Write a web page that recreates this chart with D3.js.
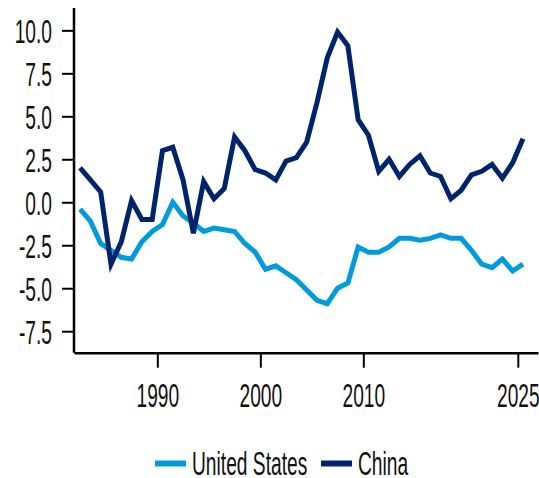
<!DOCTYPE html>
<html>
<head>
<meta charset="utf-8">
<script src="https://cdn.jsdelivr.net/npm/d3@7"></script>
<style>
  body { margin: 0; background: #fff; }
  text { font-family: "Liberation Sans", Arial, sans-serif; fill: #111; }
</style>
</head>
<body>
<svg id="chart" width="539" height="478"></svg>
<script>
// annual data, plotted at mid-year
const years = d3.range(1982, 2026);
const unitedStates = [
    -0.4, -1.1, -2.4, -2.8, -3.2, -3.3, -2.3, -1.7, -1.3, 0.0,
    -0.8, -1.2, -1.7, -1.5, -1.6, -1.7, -2.4, -2.9, -3.9, -3.7,
    -4.1, -4.5, -5.1, -5.7, -5.9, -5.0, -4.7, -2.6, -2.9, -2.9,
    -2.6, -2.1, -2.1, -2.2, -2.1, -1.9, -2.1, -2.1, -2.8, -3.6,
    -3.8, -3.3, -4.0, -3.6
];
const china = [
    2.0, 1.3, 0.6, -3.6, -2.3, 0.1, -1.0, -1.0, 3.0, 3.2,
    1.3, -1.8, 1.2, 0.2, 0.8, 3.8, 3.0, 1.9, 1.7, 1.3,
    2.4, 2.6, 3.5, 5.8, 8.4, 9.9, 9.1, 4.8, 3.9, 1.8,
    2.5, 1.5, 2.2, 2.7, 1.7, 1.5, 0.2, 0.7, 1.6, 1.8,
    2.2, 1.4, 2.3, 3.7
];
const yTicks = [-7.5, -5.0, -2.5, 0.0, 2.5, 5.0, 7.5, 10.0];
const xTicks = [1990, 2000, 2010, 2025];
const seriesNames = ['United States', 'China'];
const colors = ['#009bdb', '#00246b'];

const svg = d3.select('#chart');
const plot = {left: 74, right: 538, top: 8, bottom: 352.7};
// squeezed, stretched lettering of the original
const stretch = 'scale(0.8,1.4)';

const x = d3.scaleLinear().domain([1981.91, 2026.96]).range([plot.left, plot.right]);
const y = d3.scaleLinear().domain([-8.75, 11.3]).range([plot.bottom, plot.top]);

//y axis
const yAxis = svg.append('g')
    .attr('transform', `translate(${plot.left},0)`)
    .call(d3.axisLeft(y).tickValues(yTicks).tickSize(12).tickSizeOuter(0)
        .tickFormat(d => d.toFixed(1)));
yAxis.selectAll('text')
    .attr('x', null).attr('dy', null)
    .attr('font-size', 24)
    .attr('text-anchor', 'end')
    .attr('dominant-baseline', 'central')
    .attr('transform', `translate(-22,0.5) ${stretch}`);

//x axis
const xAxis = svg.append('g')
    .attr('transform', `translate(0,${plot.bottom})`)
    .call(d3.axisBottom(x).tickValues(xTicks).tickSize(15).tickSizeOuter(0)
        .tickFormat(d3.format('d')));
xAxis.selectAll('text')
    .attr('y', null).attr('dy', null)
    .attr('font-size', 24)
    .attr('text-anchor', 'middle')
    .attr('transform', `translate(0,54.5) ${stretch}`);

[yAxis, xAxis].forEach(g => {
    g.select('.domain').attr('stroke', '#000').attr('stroke-width', 2.5);
    g.selectAll('.tick line').attr('stroke', '#000').attr('stroke-width', 2);
});
// stretch the left axis up to the top edge
yAxis.select('.domain').attr('d', `M0,${plot.top}V${plot.bottom}`);

//lines
const line = d3.line()
    .x((d, i) => x(years[i] + 0.5))
    .y(d => y(d));
[unitedStates, china].forEach((data, i) => {
    svg.append('path')
        .attr('d', line(data))
        .attr('fill', 'none')
        .attr('stroke', colors[i])
        .attr('stroke-width', 5)
        .attr('stroke-linejoin', 'miter');
});

//legend
const legendX = [155, 321];
seriesNames.forEach((name, i) => {
    const g = svg.append('g').attr('transform', `translate(${legendX[i]},0)`);
    g.append('line')
        .attr('x1', 0).attr('x2', 31)
        .attr('y1', 463.5).attr('y2', 463.5)
        .attr('stroke', colors[i])
        .attr('stroke-width', 6);
    g.append('text')
        .attr('font-size', 24)
        .attr('transform', `translate(37,475) ${stretch}`)
        .text(name);
});
</script>
</body>
</html>
